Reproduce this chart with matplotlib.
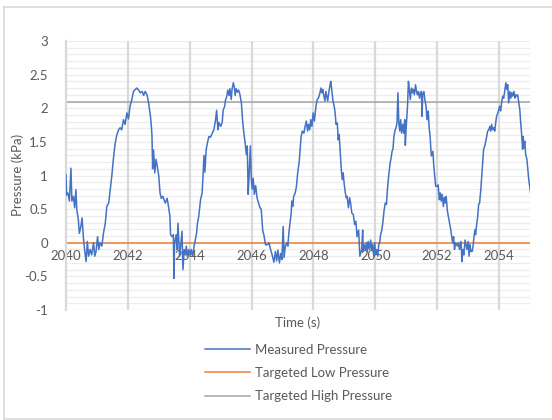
import matplotlib
matplotlib.use("Agg")
import matplotlib.pyplot as plt
from matplotlib.lines import Line2D
import numpy as np

# Measured pressure trace (time in s, pressure in kPa)
time_s = [
    2040.00, 2040.02, 2040.06, 2040.11, 2040.16, 2040.19, 2040.24, 2040.28, 2040.32, 2040.35,
    2040.40, 2040.43, 2040.48, 2040.52, 2040.56, 2040.60, 2040.65, 2040.69, 2040.73, 2040.78,
    2040.83, 2040.89, 2040.93, 2040.97, 2041.02, 2041.06, 2041.10, 2041.16, 2041.21, 2041.27,
    2041.32, 2041.38, 2041.43, 2041.48, 2041.53, 2041.59, 2041.64, 2041.70, 2041.75, 2041.80,
    2041.86, 2041.91, 2041.97, 2042.02, 2042.07, 2042.13, 2042.18,
    2042.24, 2042.29, 2042.35, 2042.40, 2042.46, 2042.51, 2042.56, 2042.62, 2042.67, 2042.73,
    2042.76, 2042.78, 2042.80, 2042.83, 2042.87, 2042.91, 2042.95, 2043.00, 2043.04, 2043.08,
    2043.13, 2043.17, 2043.21, 2043.27, 2043.32, 2043.36, 2043.38, 2043.43, 2043.47, 2043.49,
    2043.51, 2043.56, 2043.59, 2043.62, 2043.67, 2043.71, 2043.75, 2043.78, 2043.82, 2043.86,
    2043.89, 2043.92, 2043.97, 2044.01, 2044.05, 2044.10, 2044.14, 2044.18, 2044.22, 2044.25,
    2044.29, 2044.35, 2044.40, 2044.43, 2044.46, 2044.49, 2044.53, 2044.57, 2044.62,
    2044.67, 2044.73, 2044.78, 2044.83, 2044.87, 2044.91, 2044.94, 2045.00, 2045.05, 2045.08,
    2045.13, 2045.16, 2045.19, 2045.23, 2045.27, 2045.30, 2045.34, 2045.37, 2045.41, 2045.44,
    2045.47, 2045.50, 2045.54, 2045.58, 2045.62, 2045.67, 2045.71, 2045.75, 2045.79, 2045.83,
    2045.86, 2045.89, 2045.92, 2045.96, 2045.99, 2046.02, 2046.05, 2046.09, 2046.13, 2046.18,
    2046.23, 2046.27, 2046.31, 2046.36, 2046.40, 2046.45, 2046.51, 2046.56, 2046.62, 2046.67,
    2046.72, 2046.77, 2046.81, 2046.85, 2046.90, 2046.94, 2046.98, 2047.02, 2047.05, 2047.09,
    2047.14, 2047.17, 2047.21, 2047.24, 2047.28, 2047.30, 2047.33, 2047.36, 2047.41, 2047.45,
    2047.49, 2047.54, 2047.57, 2047.60, 2047.64, 2047.69, 2047.73, 2047.77, 2047.81, 2047.84,
    2047.88, 2047.91, 2047.95, 2047.99, 2048.03, 2048.08, 2048.12, 2048.16, 2048.21, 2048.24,
    2048.27, 2048.30, 2048.33, 2048.37, 2048.40, 2048.43, 2048.46, 2048.50, 2048.53, 2048.56,
    2048.59, 2048.63, 2048.67, 2048.70, 2048.73, 2048.77, 2048.80, 2048.83, 2048.86, 2048.90,
    2048.93, 2048.96, 2048.99, 2049.03, 2049.06, 2049.09, 2049.13, 2049.17, 2049.20, 2049.24,
    2049.29, 2049.33, 2049.37, 2049.41, 2049.46, 2049.50,
    2049.56, 2049.59, 2049.61, 2049.64, 2049.68, 2049.71, 2049.74, 2049.77, 2049.81, 2049.85,
    2049.88, 2049.91, 2049.95, 2049.98, 2050.01, 2050.04, 2050.08, 2050.11, 2050.14, 2050.17,
    2050.21, 2050.24, 2050.28, 2050.32, 2050.36, 2050.39, 2050.43, 2050.48, 2050.51, 2050.54,
    2050.57, 2050.60, 2050.64, 2050.67, 2050.70, 2050.73, 2050.76, 2050.79, 2050.82, 2050.85,
    2050.89, 2050.92, 2050.95, 2050.97, 2051.00, 2051.04, 2051.07, 2051.10, 2051.13, 2051.17,
    2051.20, 2051.23, 2051.26, 2051.30, 2051.33, 2051.36, 2051.39, 2051.43, 2051.46, 2051.49,
    2051.51, 2051.53, 2051.57, 2051.60, 2051.64, 2051.67, 2051.71, 2051.74, 2051.77, 2051.81,
    2051.86, 2051.89, 2051.92, 2051.95,
    2052.00, 2052.03, 2052.07, 2052.10, 2052.13, 2052.16, 2052.20, 2052.23, 2052.26, 2052.29,
    2052.33, 2052.36, 2052.40, 2052.43, 2052.46, 2052.50, 2052.53, 2052.56, 2052.59, 2052.62,
    2052.66, 2052.69, 2052.72, 2052.77, 2052.80, 2052.83, 2052.86, 2052.90, 2052.93, 2052.96,
    2053.00, 2053.03, 2053.06, 2053.09, 2053.13, 2053.16, 2053.19, 2053.22, 2053.24, 2053.28,
    2053.31, 2053.34, 2053.37, 2053.41, 2053.44, 2053.47, 2053.50, 2053.54, 2053.57, 2053.60,
    2053.63, 2053.67, 2053.70, 2053.73, 2053.76, 2053.79, 2053.83, 2053.86, 2053.89, 2053.92,
    2053.96, 2053.99, 2054.02, 2054.05, 2054.09, 2054.12, 2054.15, 2054.18, 2054.22, 2054.25,
    2054.28, 2054.31, 2054.35, 2054.38, 2054.41, 2054.44, 2054.48, 2054.51, 2054.54, 2054.57,
    2054.60, 2054.64, 2054.67, 2054.70, 2054.73, 2054.76, 2054.78, 2054.80, 2054.83, 2054.86,
    2054.90, 2054.93, 2054.96, 2054.99, 2055.02,
]

pressure_kpa = [
    1.01, 0.71, 0.74, 0.62, 1.11, 0.62, 0.69, 0.52, 0.79, 0.49,
    0.34, 0.14, 0.24, 0.37, 0.09, -0.10, -0.28, 0.02, -0.20, -0.10,
    -0.18, 0.00, -0.20, -0.13, 0.09, -0.10, 0.00, -0.05, 0.14, 0.29,
    0.54, 0.59, 0.79, 0.99, 1.24, 1.48, 1.60, 1.68, 1.71, 1.68,
    1.83, 1.76, 1.93, 1.84, 2.03, 2.13, 2.25,
    2.28, 2.30, 2.27, 2.23, 2.25, 2.19, 2.25, 2.20, 2.08, 1.88,
    1.73, 1.58, 1.10, 1.38, 1.04, 1.24, 1.14, 0.99, 0.74, 0.66,
    0.69, 0.64, 0.59, 0.66, 0.52, 0.39, 0.12, 0.09, 0.12, -0.53,
    0.00, 0.12, -0.10, 0.29, -0.20, -0.03, 0.17, -0.40, -0.10, -0.18,
    -0.05, -0.20, -0.10, -0.18, -0.10, -0.20, -0.05, 0.04, 0.14, 0.29,
    0.39, 0.64, 0.74, 0.99, 1.30, 1.05, 1.38, 1.48, 1.58,
    1.57, 1.63, 1.68, 1.81, 1.97, 1.68, 1.79, 1.73, 1.79, 1.97,
    2.03, 2.13, 2.16, 2.27, 2.19, 2.29, 2.13, 2.29, 2.38, 2.32,
    2.19, 2.29, 2.24, 2.27, 2.21, 2.08, 1.81, 1.63, 1.49, 1.31,
    1.44, 0.72, 1.01, 1.44, 0.96, 0.80, 0.96, 0.72, 0.85, 0.66,
    0.58, 0.52, 0.50, 0.18, 0.11, -0.03, -0.03, 0.00, -0.11, -0.19,
    -0.29, -0.13, -0.27, -0.11, -0.30, -0.16, -0.25, 0.24, -0.22, -0.05,
    0.00, -0.05, 0.17, 0.29, 0.44, 0.62, 0.54, 0.69, 0.74, 0.84,
    1.04, 1.21, 1.39, 1.58, 1.66, 1.63, 1.73, 1.81, 1.66, 1.76,
    1.68, 1.83, 1.73, 1.93, 1.81, 2.03, 2.13, 2.15, 2.23, 2.30,
    2.23, 2.28, 2.20, 2.11, 2.25, 2.18, 2.11, 2.25, 2.33, 2.40,
    2.28, 2.11, 2.03, 1.93, 1.76, 1.78, 1.53, 1.61, 1.39, 1.09,
    0.94, 1.04, 0.89, 0.74, 0.67, 0.69, 0.52, 0.67, 0.59, 0.44,
    0.42, 0.27, 0.32, 0.09, 0.19, -0.20,
    -0.10, 0.19, -0.13, -0.03, -0.10, 0.00, -0.13, 0.02, -0.10, 0.04,
    -0.10, -0.03, -0.20, 0.00, -0.18, -0.10, -0.20, -0.03, 0.00, 0.12,
    0.19, 0.29, 0.47, 0.59, 0.57, 0.79, 0.99, 1.19, 1.26, 1.36,
    1.39, 1.58, 1.68, 1.71, 1.78, 2.23, 1.78, 1.66, 1.83, 1.63,
    1.76, 1.63, 1.83, 1.45, 1.73, 2.03, 2.40, 2.28, 2.13, 2.30,
    2.23, 2.28, 2.20, 2.35, 2.25, 2.20, 2.25, 2.15, 2.23, 2.25,
    1.88, 2.20, 2.25, 2.13, 2.03, 1.83, 1.96, 1.71, 1.58, 1.29,
    1.36, 1.14, 0.99, 0.84,
    0.84, 0.86, 0.64, 0.74, 0.62, 0.72, 0.54, 0.67, 0.59, 0.69,
    0.47, 0.39, 0.29, 0.22, 0.12, 0.00, 0.09, -0.10, 0.00, -0.03,
    -0.05, 0.00, -0.10, 0.02, -0.28, -0.10, -0.18, 0.04, -0.03, -0.10,
    0.02, -0.20, -0.03, -0.13, -0.13, -0.05, 0.09, 0.19, 0.12, 0.29,
    0.39, 0.57, 0.59, 0.79, 0.99, 1.19, 1.39, 1.44, 1.51, 1.58,
    1.66, 1.68, 1.73, 1.66, 1.76, 1.68, 1.71, 1.66, 1.78, 1.88,
    1.93, 1.98, 2.03, 1.96, 2.11, 2.18, 2.15, 2.25, 2.38, 2.28,
    2.35, 2.08, 2.25, 2.15, 2.23, 2.18, 2.25, 2.15, 2.20, 2.18,
    2.20, 2.08, 1.98, 1.78, 1.61, 1.39, 1.58, 1.41, 1.51, 1.31,
    1.24, 1.09, 0.94, 0.84, 0.74,
]

# Target pressure levels (kPa)
target_low = 0.0
target_high = 2.1

x_range = (2040, 2055)
y_range = (-1, 3)
x_ticks = [2040, 2042, 2044, 2046, 2048, 2050, 2052, 2054]
y_ticks = [-1, -0.5, 0, 0.5, 1, 1.5, 2, 2.5, 3]
y_tick_labels = ["-1", "-0.5", "0", "0.5", "1", "1.5", "2", "2.5", "3"]

BLUE = "#4472C4"
ORANGE = "#ED7D31"
GREY = "#A5A5A5"
TEXT = "#595959"
GRID = "#D9D9D9"
MINOR = "#EDEDED"

plt.rcParams["font.family"] = ["Lato", "DejaVu Sans"]

W, H = 552, 420
fig = plt.figure(figsize=(W / 100, H / 100), dpi=100)
ax = fig.add_axes([66 / W, 1 - 310 / H, (530 - 66) / W, (310 - 41) / H])

ax.set_xlim(*x_range)
ax.set_ylim(*y_range)

# light horizontal gridlines every 0.1 kPa
for yv in np.arange(-1.0, 3.0001, 0.1):
    ax.axhline(yv, color=MINOR, lw=0.9, zorder=0)
# vertical gridlines every 2 s
for xv in x_ticks[1:]:
    ax.axvline(xv, color=GRID, lw=1.6, zorder=0.5)

ax.plot(time_s, pressure_kpa, color=BLUE, lw=1.1, zorder=3)
ax.plot(x_range, [target_low, target_low], color=ORANGE, lw=1.1, zorder=2)
ax.plot(x_range, [target_high, target_high], color=GREY, lw=1.1, zorder=2)

for s in ["top", "right"]:
    ax.spines[s].set_visible(False)
ax.spines["left"].set_color(GRID)
ax.spines["left"].set_linewidth(1.6)
ax.spines["bottom"].set_position(("data", 0))
ax.spines["bottom"].set_visible(False)

ax.set_xticks(x_ticks)
ax.set_xticklabels([str(v) for v in x_ticks])
ax.set_yticks(y_ticks)
ax.set_yticklabels(y_tick_labels)
ax.tick_params(axis="both", length=0, labelsize=9.5, colors=TEXT)
ax.tick_params(axis="y", pad=13)
ax.tick_params(axis="x", pad=5)

fig.text(18 / W, 1 - 175 / H, "Pressure (kPa)", rotation=90, ha="center", va="center",
         fontsize=9.5, color=TEXT)
fig.text(298 / W, 1 - 323 / H, "Time (s)", ha="center", va="center",
         fontsize=9.5, color=TEXT)

handles = [
    Line2D([], [], color=BLUE, lw=1.1),
    Line2D([], [], color=ORANGE, lw=1.1),
    Line2D([], [], color=GREY, lw=1.1),
]
labels = ["Measured Pressure", "Targeted Low Pressure", "Targeted High Pressure"]
fig.legend(handles, labels, loc="upper left", bbox_to_anchor=(205 / W, 1 - 344 / H),
           frameon=False, fontsize=9.5, labelcolor=TEXT, handlelength=3.4,
           handletextpad=0.4, labelspacing=0.84, borderpad=0, borderaxespad=0)

# chart border
border = dict(color=GRID, lw=1.2, transform=fig.transFigure)
fig.add_artist(Line2D([4 / W, 4 / W], [1 - 7 / H, 1 - 419 / H], **border))
fig.add_artist(Line2D([4 / W, 1], [1 - 7 / H, 1 - 7 / H], **border))
fig.add_artist(Line2D([4 / W, 1], [1 - 419 / H, 1 - 419 / H], **border))

fig.savefig("out.png", dpi=100, facecolor="white")
